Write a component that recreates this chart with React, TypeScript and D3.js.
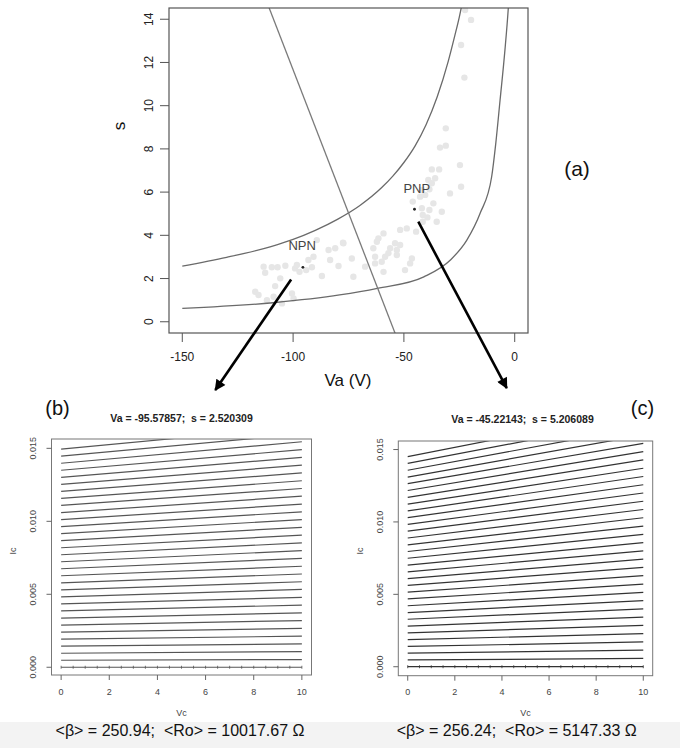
import * as d3 from "d3";
import React from "react";

// panel (a): Va vs s
const upperCurve: [number, number][] = [
  [-150, 2.57], [-130, 2.98], [-110, 3.48], [-100, 3.81], [-90, 4.23], [-80, 4.74],
  [-70, 5.37], [-60, 6.21], [-55, 6.74], [-50, 7.37], [-45, 8.13], [-40, 9.12],
  [-35, 10.4], [-30, 12.05], [-27, 13.25], [-25, 14.1], [-23, 15.1],
];
const lowerCurve: [number, number][] = [
  [-150, 0.62], [-109, 0.88], [-79, 1.24], [-62, 1.55], [-41, 2.08], [-29, 2.86],
  [-21.6, 3.78], [-15.6, 5.02], [-10.4, 6.71], [-8.6, 8.2], [-6.6, 10.26],
  [-4.4, 12.58], [-2.9, 14.5], [-2.4, 15.3],
];
const boundaryLine: [number, number][] = [[-112, 14.84], [-53, -0.79]];

const samples: [number, number][] = [
  [-22.4, 14.43], [-19.7, 13.97], [-24.2, 12.81], [-22.7, 11.3], [-31.1, 8.95],
  [-31.1, 8.15], [-33.7, 8.06], [-24.7, 7.25], [-37.4, 7.05], [-34.1, 7.05],
  [-39.0, 6.56], [-35.9, 6.64], [-37.4, 6.41], [-41.9, 6.1], [-38.5, 6.13],
  [-29.2, 5.94], [-24.2, 6.25], [-42.7, 5.79], [-40.4, 5.87], [-46.0, 5.56],
  [-36.7, 5.48], [-41.9, 5.25], [-38.5, 5.17], [-32.9, 5.09], [-41.5, 4.94],
  [-39.4, 4.83], [-35.2, 4.63], [-41.5, 4.63], [-44.5, 4.17], [-48.7, 4.32],
  [-51.7, 4.25], [-59.2, 4.09], [-61.5, 3.86], [-62.2, 3.7], [-54.0, 3.63],
  [-51.7, 3.55], [-56.2, 3.4], [-53.2, 3.32], [-63.8, 3.4], [-57.0, 3.17],
  [-58.5, 3.01], [-53.2, 3.09], [-63.0, 3.01], [-60.0, 2.78], [-63.0, 2.7],
  [-46.4, 2.93], [-47.2, 2.7], [-67.5, 2.55], [-59.2, 2.31], [-49.5, 2.39],
  [-72.8, 2.08], [-73.5, 2.93], [-77.3, 3.63],
  [-113.3, 2.55], [-109.6, 2.52], [-107.0, 2.52], [-103.5, 2.59], [-112.6, 2.27],
  [-99.1, 2.47], [-97.1, 2.31], [-94.1, 2.39], [-91.5, 2.52], [-98.3, 2.63],
  [-93.1, 2.86], [-90.8, 3.01], [-89.3, 3.78], [-87.0, 2.12], [-84.0, 3.32],
  [-81.0, 3.4], [-77.5, 3.66], [-83.3, 2.86], [-79.5, 2.58], [-105.8, 2.01],
  [-108.1, 1.65], [-117.1, 1.39], [-115.6, 1.24], [-108.8, 1.16], [-100.5, 1.31],
  [-99.8, 1.08], [-111.8, 1.0], [-105.0, 0.85],
];

const devices = [
  { name: "NPN", va: -95.57857, s: 2.520309, labelVa: -95.9, labelS: 3.32 },
  { name: "PNP", va: -45.22143, s: 5.206089, labelVa: -44.2, labelS: 5.97 },
];
// arrow start / end in panel (a) data units
const arrows: [number, number, number, number][] = [
  [-100.9, 1.96, -135.1, -3.16],
  [-43.5, 4.63, -3.6, -3.07],
];

const aXTicks = [-150, -100, -50, 0];
const aYTicks = [0, 2, 4, 6, 8, 10, 12, 14];

// panels (b), (c): Ic in mA at Vc = 0 and Vc = 10, one line per base current
const icStartB = [0, 0.48, 0.96, 1.45, 1.93, 2.41, 2.89, 3.37, 3.86, 4.34, 4.82, 5.3, 5.78, 6.27, 6.75, 7.23,
  7.71, 8.19, 8.68, 9.16, 9.64, 10.12, 10.6, 11.09, 11.57, 12.05, 12.53, 13.01, 13.5, 13.98, 14.46, 14.94];
const icEndB = [0, 0.53, 1.07, 1.6, 2.13, 2.66, 3.2, 3.73, 4.26, 4.79, 5.33, 5.86, 6.39, 6.92, 7.46, 7.99,
  8.52, 9.05, 9.59, 10.12, 10.65, 11.18, 11.72, 12.25, 12.78, 13.32, 13.85, 14.38, 14.91, 15.45, 15.98, 16.51];
const icStartC = [0, 0.47, 0.94, 1.4, 1.87, 2.34, 2.81, 3.28, 3.74, 4.21, 4.68, 5.15, 5.62, 6.08, 6.55, 7.02,
  7.49, 7.96, 8.42, 8.89, 9.36, 9.83, 10.3, 10.76, 11.23, 11.7, 12.17, 12.64, 13.1, 13.57, 14.04, 14.51];
const icEndC = [0, 0.57, 1.14, 1.71, 2.29, 2.86, 3.43, 4.0, 4.57, 5.14, 5.71, 6.29, 6.86, 7.43, 8.0, 8.57,
  9.14, 9.71, 10.29, 10.86, 11.43, 12.0, 12.57, 13.14, 13.71, 14.29, 14.86, 15.43, 16.0, 16.57, 17.14, 17.71];

const vcRange = [0, 10];
const vcTicks = [0, 2, 4, 6, 8, 10];
const vcMarks = [0, 0.5, 1, 1.5, 2, 2.5, 3, 3.5, 4, 4.5, 5, 5.5, 6, 6.5, 7, 7.5, 8, 8.5, 9, 9.5, 10];
const icTicks = [0, 0.005, 0.01, 0.015];

const panelTitles = ["Va = -95.57857;  s = 2.520309", "Va = -45.22143;  s = 5.206089"];
const summaries = ["<\u03b2> = 250.94;  <Ro> = 10017.67 \u03a9", "<\u03b2> = 256.24;  <Ro> = 5147.33 \u03a9"];

const FONT = "'Liberation Sans', Arial, Helvetica, sans-serif";
const pre = { whiteSpace: "pre" as const };

function TopPanel() {
  const x = d3.scaleLinear().domain([-156, 6]).range([169, 528]);
  const y = d3.scaleLinear().domain([-0.52, 14.52]).range([333, 8]);
  const line = d3.line<[number, number]>().x(d => x(d[0])).y(d => y(d[1])).curve(d3.curveMonotoneX);
  const straight = d3.line<[number, number]>().x(d => x(d[0])).y(d => y(d[1]));
  const [x0, x1] = x.range();
  const [yb, yt] = y.range();
  return (
    <g>
      <defs>
        <clipPath id="clipA">
          <rect x={x0} y={yt} width={x1 - x0} height={yb - yt} />
        </clipPath>
        <marker id="head" viewBox="0 0 10 10" refX="9" refY="5" markerUnits="userSpaceOnUse"
          markerWidth="13" markerHeight="11" orient="auto">
          <path d="M0,0 L10,5 L0,10 z" fill="#000" />
        </marker>
      </defs>
      <g clipPath="url(#clipA)">
        {samples.map((d, i) => (
          <circle key={i} cx={x(d[0])} cy={y(d[1])} r={3.2} fill="#e6e6e6" />
        ))}
        <path d={line(upperCurve) || ""} fill="none" stroke="#6a6a6a" strokeWidth={1.3} />
        <path d={line(lowerCurve) || ""} fill="none" stroke="#6a6a6a" strokeWidth={1.3} />
        <path d={straight(boundaryLine) || ""} fill="none" stroke="#7a7a7a" strokeWidth={1.3} />
      </g>
      {devices.map(d => (
        <g key={d.name}>
          <circle cx={x(d.va)} cy={y(d.s)} r={1.4} fill="#222" />
          <text x={x(d.labelVa)} y={y(d.labelS)} textAnchor="middle" fontSize={13}
            fontFamily={FONT} fill="#444">{d.name}</text>
        </g>
      ))}
      <rect x={x0} y={yt} width={x1 - x0} height={yb - yt} fill="none" stroke="#555" strokeWidth={1.2} />
      {aXTicks.map(t => (
        <g key={t}>
          <line x1={x(t)} x2={x(t)} y1={yb} y2={yb + 9} stroke="#555" />
          <text x={x(t)} y={360.5} textAnchor="middle" fontSize={12} fontFamily={FONT} fill="#222">{t}</text>
        </g>
      ))}
      {aYTicks.map(t => (
        <g key={t}>
          <line x1={x0 - 9} x2={x0} y1={y(t)} y2={y(t)} stroke="#555" />
          <text transform={`translate(152.5,${y(t)}) rotate(-90)`} textAnchor="middle" fontSize={12}
            fontFamily={FONT} fill="#222">{t}</text>
        </g>
      ))}
      <text x={348} y={386} textAnchor="middle" fontSize={17} fontFamily={FONT} fill="#111">Va (V)</text>
      <text transform={`translate(125,126) rotate(-90)`} textAnchor="middle" fontSize={17}
        fontFamily={FONT} fill="#111">s</text>
      {arrows.map((a, i) => (
        <line key={i} x1={x(a[0])} y1={y(a[1])} x2={x(a[2])} y2={y(a[3])} stroke="#000"
          strokeWidth={2.6} markerEnd="url(#head)" />
      ))}
      <text x={577} y={176} textAnchor="middle" fontSize={21} fontFamily={FONT} fill="#111">(a)</text>
    </g>
  );
}

interface PanelProps {
  id: string;
  box: [number, number, number, number]; // left, right, top, bottom
  icDomain: [number, number];
  starts: number[];
  ends: number[];
  title: string;
  titleX: number;
  titleY: number;
  tag: string;
  tagX: number;
  summary: string;
  summaryX: number;
  stroke: string;
  icLabelX: number;
}

function CurvePanel(p: PanelProps) {
  const [left, right, top, bottom] = p.box;
  const x = d3.scaleLinear().domain([-0.4, 10.4]).range([left, right]);
  const y = d3.scaleLinear().domain(p.icDomain).range([bottom, top]);
  const line = d3.line<[number, number]>().x(d => x(d[0])).y(d => y(d[1]));
  return (
    <g>
      <defs>
        <clipPath id={p.id}>
          <rect x={left} y={top} width={right - left} height={bottom - top} />
        </clipPath>
      </defs>
      <g clipPath={`url(#${p.id})`}>
        {p.starts.map((s, i) => (
          <path key={i}
            d={line([[vcRange[0], s / 1000], [vcRange[1], p.ends[i] / 1000]]) || ""}
            fill="none" stroke={p.stroke} strokeWidth={1.2} />
        ))}
        {vcMarks.map(v => (
          <line key={v} x1={x(v)} x2={x(v)} y1={y(0) - 1.5} y2={y(0) + 1.5} stroke={p.stroke} strokeWidth={0.8} />
        ))}
      </g>
      <rect x={left} y={top} width={right - left} height={bottom - top} fill="none" stroke="#777" strokeWidth={1} />
      {vcTicks.map(t => (
        <g key={t}>
          <line x1={x(t)} x2={x(t)} y1={bottom} y2={bottom + 5} stroke="#666" />
          <text x={x(t)} y={695} textAnchor="middle" fontSize={9} fontFamily={FONT} fill="#444">{t}</text>
        </g>
      ))}
      {icTicks.map(t => (
        <g key={t}>
          <line x1={left - 5} x2={left} y1={y(t)} y2={y(t)} stroke="#666" />
          <text transform={`translate(${left - 15.5},${y(t)}) rotate(-90)`} textAnchor="middle" fontSize={9}
            fontFamily={FONT} fill="#444">{d3.format(".3f")(t)}</text>
        </g>
      ))}
      <text x={(x(0) + x(10)) / 2} y={716} textAnchor="middle" fontSize={9} fontFamily={FONT} fill="#444">Vc</text>
      <text transform={`translate(${p.icLabelX},551) rotate(-90)`} textAnchor="middle" fontSize={9}
        fontFamily={FONT} fill="#444">Ic</text>
      <text x={p.titleX} y={p.titleY} textAnchor="middle" fontSize={10.5} fontWeight="bold"
        fontFamily={FONT} fill="#222" style={pre}>{p.title}</text>
      <text x={p.tagX} y={415} textAnchor="middle" fontSize={20} fontFamily={FONT} fill="#111">{p.tag}</text>
      <text x={p.summaryX} y={736} textAnchor="middle" fontSize={16} fontFamily={FONT} fill="#111"
        style={pre}>{p.summary}</text>
    </g>
  );
}

export default function App() {
  return (
    <svg width={680} height={748} viewBox="0 0 680 748"
      style={{ position: "absolute", left: 0, top: 0, background: "#fff" }}>
      <rect x={0} y={722} width={680} height={26} fill="#f3f3f3" />
      <TopPanel />
      <CurvePanel id="clipB" box={[51.5, 311.5, 439, 675]} icDomain={[-0.00053, 0.01564]}
        starts={icStartB} ends={icEndB} title={panelTitles[0]} titleX={181.5} titleY={421.5}
        tag="(b)" tagX={57.5} summary={summaries[0]} summaryX={180} stroke="#555" icLabelX={16} />
      <CurvePanel id="clipC" box={[398.3, 652.7, 441, 675.7]} icDomain={[-0.00062, 0.01559]}
        starts={icStartC} ends={icEndC} title={panelTitles[1]} titleX={522.5} titleY={423.3}
        tag="(c)" tagX={642.5} summary={summaries[1]} summaryX={516.7} stroke="#333" icLabelX={363} />
    </svg>
  );
}
